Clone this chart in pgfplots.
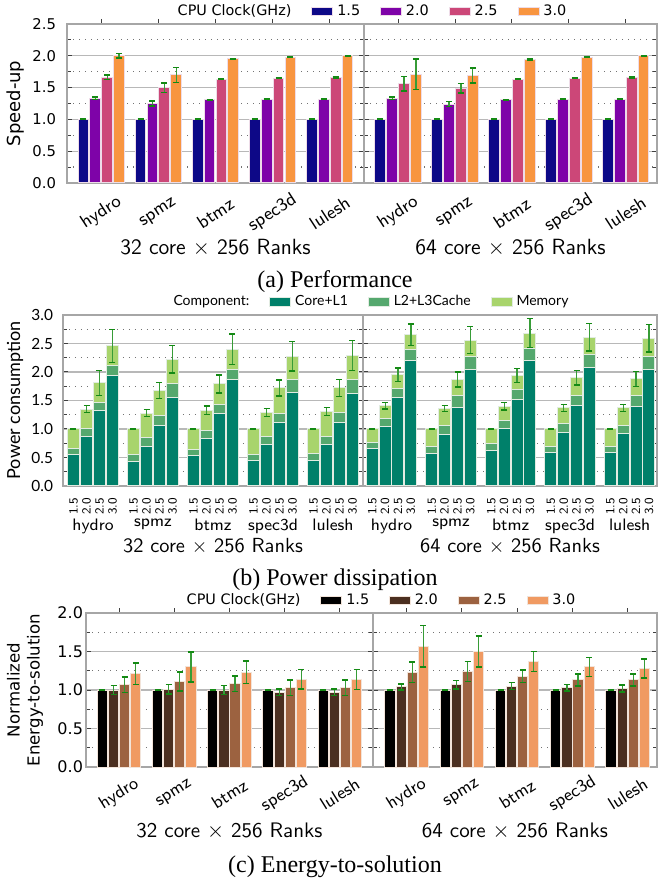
\documentclass[border=0pt]{standalone}
\usepackage{pgfplots}
\pgfplotsset{compat=1.18}
\usepackage{pgfplotstable}
\usepackage{fontspec}
\newfontfamily\dejavu{DejaVu Sans}
\newfontfamily\latofont{Lato}
\newfontfamily\capfont{Liberation Serif}

\definecolor{pA}{HTML}{0D0887}
\definecolor{pB}{HTML}{7E03A8}
\definecolor{pC}{HTML}{CC4778}
\definecolor{pD}{HTML}{F89540}
\definecolor{cA}{HTML}{000000}
\definecolor{cB}{HTML}{4B2F20}
\definecolor{cC}{HTML}{9C6240}
\definecolor{cD}{HTML}{F09A62}
\definecolor{gCore}{HTML}{00806A}
\definecolor{gL2}{HTML}{55A86E}
\definecolor{gMem}{HTML}{A8D46C}
\definecolor{errc}{HTML}{148A14}
\definecolor{barA}{HTML}{EEDCE8}
\definecolor{barB}{HTML}{E2ECE2}
\definecolor{barC}{HTML}{F2E4DA}

\pgfplotstableread{
x core l2 mem err
-0.325 0.56 0.65 1.00 0
-0.108 0.87 1.00 1.35 0.06
0.108 1.33 1.47 1.81 0.22
0.325 1.93 2.11 2.46 0.29
0.675 0.43 0.56 1.00 0
0.892 0.69 0.85 1.28 0.06
1.108 1.06 1.24 1.68 0.14
1.325 1.56 1.79 2.22 0.24
1.675 0.54 0.64 1.00 0
1.892 0.84 0.97 1.33 0.075
2.108 1.28 1.43 1.79 0.16
2.325 1.87 2.05 2.40 0.27
2.675 0.45 0.56 1.00 0
2.892 0.72 0.87 1.29 0.07
3.108 1.11 1.27 1.72 0.14
3.325 1.64 1.86 2.28 0.26
3.675 0.45 0.57 1.00 0
3.892 0.73 0.87 1.31 0.07
4.108 1.11 1.29 1.72 0.15
4.325 1.63 1.86 2.29 0.26
}\tabBL

\pgfplotstableread{
x core l2 mem err
-0.325 0.65 0.76 1.00 0
-0.108 1.05 1.18 1.41 0.06
0.108 1.55 1.71 1.95 0.12
0.325 2.21 2.40 2.65 0.19
0.675 0.57 0.69 1.00 0
0.892 0.91 1.06 1.36 0.055
1.108 1.38 1.58 1.87 0.13
1.325 2.04 2.27 2.56 0.24
1.675 0.62 0.74 1.00 0
1.892 1.00 1.15 1.40 0.065
2.108 1.52 1.69 1.94 0.125
2.325 2.21 2.42 2.68 0.26
2.675 0.58 0.69 1.00 0
2.892 0.93 1.09 1.37 0.06
3.108 1.41 1.59 1.90 0.125
3.325 2.08 2.31 2.61 0.24
3.675 0.58 0.69 1.00 0
3.892 0.92 1.06 1.37 0.065
4.108 1.39 1.58 1.88 0.13
4.325 2.04 2.28 2.59 0.24
}\tabBR

\pgfplotsset{
  boxleg/.style={legend image code/.code={\draw[##1,line width=0.4pt] (0pt,-2.1pt) rectangle (10.5pt,2.1pt);}},
  eb/.style={error bars/y dir=both, error bars/y explicit,
    error bars/error mark=|,
    error bars/error bar style={draw=errc!85, line width=0.6pt},
    error bars/error mark options={draw=errc, line width=0.7pt, mark size=1.5pt}},
  common/.style={scale only axis, anchor=south west,
    axis line style={draw=black!35, line width=0.8pt},
    tick style={draw=black!75, line width=0.5pt},
    major tick length=2.5pt, minor tick length=2pt, tick align=inside,
    ymajorgrids, yminorgrids, minor y tick num=1,
    major grid style={draw=black!28, line width=0.6pt},
    minor grid style={draw=black!55, line width=0.6pt, dash pattern=on 0.6pt off 2.4pt},
    ybar, /pgf/number format/assume math mode=true,
    legend columns=5,
    legend style={draw=none, fill=none, inner sep=0pt,
      /tikz/every even column/.append style={column sep=8pt}},
  },
  baseA/.style={common, height=79.5pt, ymin=0, ymax=2.5,
    ytick={0,0.5,1,1.5,2,2.5}, bar width=5.4pt,
    xtick={0,1,2,3,4}, xticklabels={hydro,spmz,btmz,spec3d,lulesh},
    xtick pos=right, xticklabel pos=left,
    xticklabel style={font=\sffamily\fontsize{9.2}{11}\selectfont, yshift=-12.5pt, rotate=33, anchor=center},
    yticklabel style={font=\dejavu\fontsize{7.4}{9}\selectfont, xshift=-2pt},
    every axis y label/.style={at={(axis description cs:-0.1717,0.5)}, rotate=90, anchor=center},
    ylabel style={font=\dejavu\fontsize{9}{11}\selectfont},
    every axis x label/.style={at={(axis description cs:0.5,-0.409)}, anchor=center},
    xlabel style={font=\sffamily\fontsize{11}{13}\selectfont},
    legend style={font=\dejavu\fontsize{7.2}{8}\selectfont},
  },
  baseB/.style={common, height=85.5pt, ymin=0, ymax=3,
    ytick={0,0.5,1,1.5,2,2.5,3}, bar width=6pt,
    xtick={-0.325,-0.108,0.108,0.325,0.675,0.892,1.108,1.325,1.675,1.892,2.108,2.325,2.675,2.892,3.108,3.325,3.675,3.892,4.108,4.325},
    xticklabels={1.5,2.0,2.5,3.0,1.5,2.0,2.5,3.0,1.5,2.0,2.5,3.0,1.5,2.0,2.5,3.0,1.5,2.0,2.5,3.0},
    xtick style={draw=none},
    xticklabel style={font=\sffamily\fontsize{6.2}{7}\selectfont, rotate=90, anchor=east},
    extra x ticks={0,1,2,3,4},
    extra x tick labels={hydro,spmz,btmz,spec3d,lulesh},
    extra x tick style={major tick length=0pt, xticklabel style={rotate=-90, anchor=north, yshift=-13pt, font=\sffamily\fontsize{8.3}{10}\selectfont}},
    yticklabel style={font=\latofont\fontsize{7.7}{9}\selectfont, xshift=-1.5pt},
    every axis y label/.style={at={(axis description cs:-0.16,0.5)}, rotate=90, anchor=center},
    ylabel style={font=\latofont\fontsize{9}{11}\selectfont},
    every axis x label/.style={at={(axis description cs:0.5,-0.351)}, anchor=center},
    xlabel style={font=\sffamily\fontsize{10.2}{12}\selectfont},
    legend style={font=\latofont\fontsize{7}{8}\selectfont},
  },
  baseC/.style={common, height=77pt, ymin=0, ymax=2,
    ytick={0,0.5,1,1.5,2}, bar width=5.1pt,
    xtick={0,1,2,3,4}, xticklabels={hydro,spmz,btmz,spec3d,lulesh},
    xtick pos=right, xticklabel pos=left,
    xticklabel style={font=\sffamily\fontsize{8.9}{10}\selectfont, yshift=-11pt, rotate=32, anchor=center},
    yticklabel style={font=\dejavu\fontsize{8}{9}\selectfont, xshift=2pt},
    every axis y label/.style={at={(axis description cs:-0.2125,0.5)}, rotate=90, anchor=center},
    ylabel style={font=\dejavu\fontsize{8.3}{10}\selectfont, align=center},
    every axis x label/.style={at={(axis description cs:0.5,-0.4156)}, anchor=center},
    xlabel style={font=\sffamily\fontsize{10.5}{12}\selectfont},
    legend style={font=\dejavu\fontsize{7.2}{8}\selectfont},
  },
}

\begin{document}
\begin{tikzpicture}
\useasboundingbox (0,0) rectangle (329pt,439.5pt);

%================ (a) Performance, 32 core
\begin{axis}[baseA, at={(33.5pt,348pt)}, width=148.5pt, xmin=-0.6, xmax=4.6,
  yticklabels={0.0,0.5,1.0,1.5,2.0,2.5},
  ylabel={Speed-up}, xlabel={32 core $\times$ 256 Ranks},
  legend style={at={(1,1)}, anchor=south, xshift=4pt, yshift=0.5pt}]
\addlegendimage{empty legend}\addlegendentry{CPU Clock(GHz)}
\addlegendimage{boxleg, fill=pA, draw=barA}\addlegendentry{1.5}
\addlegendimage{boxleg, fill=pB, draw=barA}\addlegendentry{2.0}
\addlegendimage{boxleg, fill=pC, draw=barA}\addlegendentry{2.5}
\addlegendimage{boxleg, fill=pD, draw=barA}\addlegendentry{3.0}
\addplot[forget plot, fill=pA, draw=barA, line width=0.5pt, bar shift=-8.9pt, eb] coordinates
 {(0,1.00) +- (0,0.005) (1,1.00) +- (0,0.005) (2,1.00) +- (0,0.005) (3,1.00) +- (0,0.005) (4,1.00) +- (0,0.005)};
\addplot[forget plot, fill=pB, draw=barA, line width=0.5pt, bar shift=-2.97pt, eb] coordinates
 {(0,1.33) +- (0,0.02) (1,1.25) +- (0,0.04) (2,1.31) +- (0,0.006) (3,1.32) +- (0,0.006) (4,1.32) +- (0,0.006)};
\addplot[forget plot, fill=pC, draw=barA, line width=0.5pt, bar shift=2.97pt, eb] coordinates
 {(0,1.66) +- (0,0.035) (1,1.50) +- (0,0.075) (2,1.63) +- (0,0.006) (3,1.65) +- (0,0.006) (4,1.66) +- (0,0.006)};
\addplot[forget plot, fill=pD, draw=barA, line width=0.5pt, bar shift=8.9pt, eb] coordinates
 {(0,2.00) +- (0,0.035) (1,1.70) +- (0,0.12) (2,1.95) +- (0,0.008) (3,1.98) +- (0,0.006) (4,2.00) +- (0,0.006)};
\end{axis}

%================ (a) Performance, 64 core
\begin{axis}[baseA, at={(182pt,348pt)}, width=146.5pt, xmin=-0.6, xmax=4.55,
  yticklabels={}, xlabel={64 core $\times$ 256 Ranks}]
\addplot[forget plot, fill=pA, draw=barA, line width=0.5pt, bar shift=-8.9pt, eb] coordinates
 {(0,1.00) +- (0,0.005) (1,1.00) +- (0,0.005) (2,1.00) +- (0,0.005) (3,1.00) +- (0,0.005) (4,1.00) +- (0,0.005)};
\addplot[forget plot, fill=pB, draw=barA, line width=0.5pt, bar shift=-2.97pt, eb] coordinates
 {(0,1.33) +- (0,0.02) (1,1.24) +- (0,0.04) (2,1.31) +- (0,0.006) (3,1.32) +- (0,0.006) (4,1.32) +- (0,0.006)};
\addplot[forget plot, fill=pC, draw=barA, line width=0.5pt, bar shift=2.97pt, eb] coordinates
 {(0,1.56) +- (0,0.115) (1,1.49) +- (0,0.075) (2,1.63) +- (0,0.006) (3,1.65) +- (0,0.006) (4,1.66) +- (0,0.006)};
\addplot[forget plot, fill=pD, draw=barA, line width=0.5pt, bar shift=8.9pt, eb] coordinates
 {(0,1.71) +- (0,0.24) (1,1.69) +- (0,0.12) (2,1.94) +- (0,0.008) (3,1.98) +- (0,0.006) (4,2.00) +- (0,0.006)};
\end{axis}

\node[font=\capfont\fontsize{12}{14}\selectfont] at (167.5pt,298.5pt) {(a) Performance};

%================ (b) Power, 32 core
\begin{axis}[baseB, at={(31.5pt,196.5pt)}, width=150pt, xmin=-0.5, xmax=4.5,
  yticklabels={0.0,0.5,1.0,1.5,2.0,2.5,3.0},
  ylabel={Power consumption}, xlabel={32 core $\times$ 256 Ranks},
  legend columns=4,
  legend style={at={(1,1)}, anchor=south, xshift=4pt, yshift=1pt}]
\addlegendimage{empty legend}\addlegendentry{Component:}
\addlegendimage{boxleg, fill=gCore, draw=barB}\addlegendentry{Core+L1}
\addlegendimage{boxleg, fill=gL2, draw=barB}\addlegendentry{L2+L3Cache}
\addlegendimage{boxleg, fill=gMem, draw=barB}\addlegendentry{Memory}
\addplot[forget plot, fill=gMem, draw=barB, line width=0.5pt, bar shift=0pt, eb] table[x=x, y=mem, y error=err] {\tabBL};
\addplot[forget plot, fill=gL2, draw=barB, line width=0.5pt, bar shift=0pt] table[x=x, y=l2] {\tabBL};
\addplot[forget plot, fill=gCore, draw=barB, line width=0.5pt, bar shift=0pt] table[x=x, y=core] {\tabBL};
\end{axis}

%================ (b) Power, 64 core
\begin{axis}[baseB, at={(181.5pt,196.5pt)}, width=147pt, xmin=-0.48, xmax=4.46,
  yticklabels={}, xlabel={64 core $\times$ 256 Ranks}]
\addplot[forget plot, fill=gMem, draw=barB, line width=0.5pt, bar shift=0pt, eb] table[x=x, y=mem, y error=err] {\tabBR};
\addplot[forget plot, fill=gL2, draw=barB, line width=0.5pt, bar shift=0pt] table[x=x, y=l2] {\tabBR};
\addplot[forget plot, fill=gCore, draw=barB, line width=0.5pt, bar shift=0pt] table[x=x, y=core] {\tabBR};
\end{axis}

\node[font=\capfont\fontsize{12}{14}\selectfont] at (167.5pt,149.5pt) {(b) Power dissipation};

%================ (c) Energy, 32 core
\begin{axis}[baseC, at={(43pt,56pt)}, width=143.5pt, xmin=-0.6, xmax=4.6,
  yticklabels={0.0,0.5,1.0,1.5,2.0},
  ylabel={Normalized\\Energy-to-solution}, xlabel={32 core $\times$ 256 Ranks},
  legend style={at={(1,1)}, anchor=south, xshift=4pt, yshift=0.5pt}]
\addlegendimage{empty legend}\addlegendentry{CPU Clock(GHz)}
\addlegendimage{boxleg, fill=cA, draw=barC}\addlegendentry{1.5}
\addlegendimage{boxleg, fill=cB, draw=barC}\addlegendentry{2.0}
\addlegendimage{boxleg, fill=cC, draw=barC}\addlegendentry{2.5}
\addlegendimage{boxleg, fill=cD, draw=barC}\addlegendentry{3.0}
\addplot[forget plot, fill=cA, draw=barC, line width=0.5pt, bar shift=-8.33pt, eb] coordinates
 {(0,1.00) +- (0,0.003) (1,1.00) +- (0,0.003) (2,1.00) +- (0,0.003) (3,1.00) +- (0,0.003) (4,1.00) +- (0,0.003)};
\addplot[forget plot, fill=cB, draw=barC, line width=0.5pt, bar shift=-2.78pt, eb] coordinates
 {(0,1.00) +- (0,0.055) (1,1.01) +- (0,0.06) (2,1.00) +- (0,0.06) (3,0.97) +- (0,0.045) (4,0.97) +- (0,0.045)};
\addplot[forget plot, fill=cC, draw=barC, line width=0.5pt, bar shift=2.78pt, eb] coordinates
 {(0,1.07) +- (0,0.10) (1,1.11) +- (0,0.125) (2,1.08) +- (0,0.10) (3,1.03) +- (0,0.10) (4,1.03) +- (0,0.10)};
\addplot[forget plot, fill=cD, draw=barC, line width=0.5pt, bar shift=8.33pt, eb] coordinates
 {(0,1.21) +- (0,0.14) (1,1.30) +- (0,0.195) (2,1.23) +- (0,0.145) (3,1.14) +- (0,0.125) (4,1.14) +- (0,0.13)};
\end{axis}

%================ (c) Energy, 64 core
\begin{axis}[baseC, at={(186.5pt,56pt)}, width=142pt, xmin=-0.61, xmax=4.53,
  yticklabels={}, xlabel={64 core $\times$ 256 Ranks}]
\addplot[forget plot, fill=cA, draw=barC, line width=0.5pt, bar shift=-8.33pt, eb] coordinates
 {(0,1.00) +- (0,0.003) (1,1.00) +- (0,0.003) (2,1.00) +- (0,0.003) (3,1.00) +- (0,0.003) (4,1.00) +- (0,0.003)};
\addplot[forget plot, fill=cB, draw=barC, line width=0.5pt, bar shift=-2.78pt, eb] coordinates
 {(0,1.04) +- (0,0.04) (1,1.07) +- (0,0.055) (2,1.05) +- (0,0.045) (3,1.03) +- (0,0.045) (4,1.02) +- (0,0.045)};
\addplot[forget plot, fill=cC, draw=barC, line width=0.5pt, bar shift=2.78pt, eb] coordinates
 {(0,1.23) +- (0,0.135) (1,1.24) +- (0,0.13) (2,1.18) +- (0,0.08) (3,1.13) +- (0,0.08) (4,1.13) +- (0,0.08)};
\addplot[forget plot, fill=cD, draw=barC, line width=0.5pt, bar shift=8.33pt, eb] coordinates
 {(0,1.57) +- (0,0.27) (1,1.50) +- (0,0.20) (2,1.37) +- (0,0.13) (3,1.30) +- (0,0.125) (4,1.28) +- (0,0.125)};
\end{axis}

\node[font=\capfont\fontsize{12}{14}\selectfont] at (167.5pt,6pt) {(c) Energy-to-solution};
\end{tikzpicture}
\end{document}
